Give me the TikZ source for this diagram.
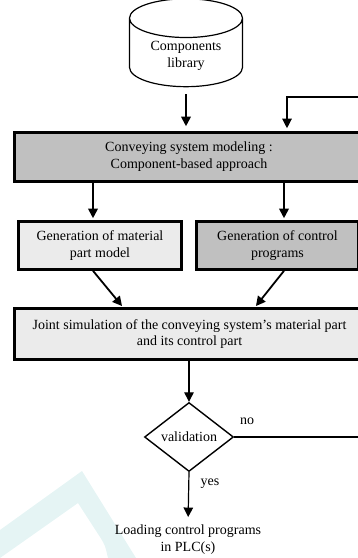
\documentclass[tikz,border=0pt]{standalone}
\usepackage{fontspec}
\setmainfont{Liberation Serif}
\usetikzlibrary{shapes.geometric,arrows.meta}
\definecolor{darkbx}{RGB}{192,192,192}
\definecolor{lightbx}{RGB}{235,235,235}
\definecolor{wmark}{RGB}{229,244,244}
\tikzstyle{bx}=[draw=black,line width=2.6pt,inner sep=1pt,align=center,font=\fontsize{14}{16.8}\selectfont]
\tikzstyle{db}=[cylinder,shape border rotate=90,draw=black,line width=1.2pt,aspect=.5,minimum width=113pt,minimum height=87pt,align=center,font=\fontsize{14}{16.8}\selectfont]
\tikzstyle{dm}=[diamond,draw=black,line width=1.4pt,minimum width=89pt,minimum height=69pt,inner sep=0pt,font=\fontsize{14}{16.8}\selectfont]
\tikzstyle{tx}=[inner sep=1pt,align=center,font=\fontsize{14}{16.8}\selectfont]
\tikzstyle{ar}=[-{Triangle[length=9.5pt,width=9.5pt]},line width=1.8pt]
\tikzstyle{thn}=[line width=1.2pt]

\begin{document}
\begin{tikzpicture}[x=1pt,y=-1pt]
\useasboundingbox (0,0) rectangle (358,558);
\clip (0,0) rectangle (358,558);
% faint mark in the corner
\fill[wmark] (0,530) -- (82,471) -- (136,558) -- (108,558) .. controls (105,545) .. (100,537) -- (78,503) -- (0,558) -- cycle;
% blocks
\node[db] (lib) at (186,56) {Components\\library};
\node[bx,fill=darkbx,minimum width=349pt,minimum height=49pt] (model) at (189,157) {Conveying system modeling :\\Component-based approach};
\node[bx,fill=lightbx,minimum width=163pt,minimum height=48pt] (gmat) at (100,245.5) {Generation of material\\part model};
\node[bx,fill=darkbx,minimum width=162pt,minimum height=48pt] (gctl) at (277.5,245.5) {Generation of control\\programs};
\node[bx,fill=lightbx,minimum width=350pt,minimum height=51pt] (sim) at (189.5,334) {Joint simulation of the conveying system's material part\\and its control part};
\node[dm] (val) at (189,437) {validation};
\node[tx] (plc) at (188,540) {Loading control programs\\in PLC(s)};
\node[tx] (no) at (247,421) {no};
\node[tx] (yes) at (210,484) {yes};
% helper points
\coordinate (c1) at (93,0);
\coordinate (c2) at (284,0);
\coordinate (c3) at (123,0);
\coordinate (c4) at (255,0);
\coordinate (fb) at (287,97);
\coordinate (re) at (372,0);
% connectors
\draw[ar,shorten <=7pt,shorten >=5pt] (lib.south) -- (model.north -| lib.south);
\draw[ar,shorten >=2pt] (model.south -| c1) -- (gmat.north -| c1);
\draw[ar,shorten >=2pt] (model.south -| c2) -- (gctl.north -| c2);
\draw[ar,shorten >=1.5pt] (gmat.south -| c1) -- (sim.north -| c3);
\draw[ar,shorten >=1.5pt] (gctl.south -| c2) -- (sim.north -| c4);
\draw[ar,thn] (sim.south -| val.north) -- (val.north);
\draw[ar,thn,shorten >=7pt] (val.south) -- (plc.north);
\draw[ar,thn,shorten >=3pt] (val.east) -- (val.east -| re) |- (fb) -- (fb |- model.north);
\end{tikzpicture}
\end{document}
